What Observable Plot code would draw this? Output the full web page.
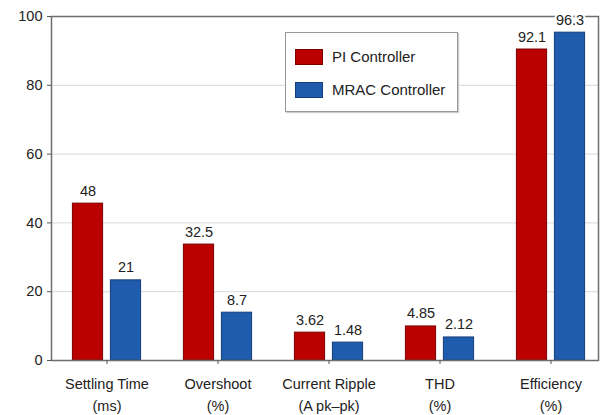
<!DOCTYPE html>
<html>
<head>
<meta charset="utf-8">
<script src="https://cdn.jsdelivr.net/npm/d3@7"></script>
<script src="https://cdn.jsdelivr.net/npm/@observablehq/plot@0.6"></script>
<style>
  html, body { margin: 0; padding: 0; background: #fff; }
  #wrap { position: relative; width: 603px; height: 415px; font-family: "Liberation Sans", Arial, sans-serif; }
  #legend { position: absolute; left: 285px; top: 32px; width: 173px; height: 80px; border: 1px solid #999; background: #fff; box-sizing: border-box; box-shadow: 1px 1px 1px #ccc; }
  .item { position: absolute; left: 9px; display: flex; align-items: center; font-size: 15px; color: #222; }
  .sw { width: 28px; height: 16px; margin-right: 9px; box-sizing: border-box; }
</style>
</head>
<body>
<div id="wrap">
  <div id="chart"></div>
  <div id="legend"></div>
</div>
<script>
const categories = ["Settling Time", "Overshoot", "Current Ripple", "THD", "Efficiency"];
const units = ["(ms)", "(%)", "(A pk–pk)", "(%)", "(%)"];
const series = ["PI Controller", "MRAC Controller"];
const piValues = [45.6, 33.7, 8.1, 9.9, 90.4];
const mracValues = [23.3, 13.9, 5.2, 6.7, 95.3];
const piLabels = ["48", "32.5", "3.62", "4.85", "92.1"];
const mracLabels = ["21", "8.7", "1.48", "2.12", "96.3"];
const yTicks = [0, 20, 40, 60, 80, 100];
const colors = ["#bb0000", "#1f5cad"];
const edges = ["#7a0000", "#123d78"];

const piData = categories.map((c, i) => ({cat: c, value: piValues[i], label: piLabels[i]}));
const mracData = categories.map((c, i) => ({cat: c, value: mracValues[i], label: mracLabels[i]}));
const unitOf = new Map(categories.map((c, i) => [c, units[i]]));

const half = (608 - 49) / 5 / 2;
const outer = half - 34.5, inner = half + 3.5;

const font = "'Liberation Sans', Arial, sans-serif";

const chart = Plot.plot({
  width: 603,
  height: 415,
  marginTop: 16,
  marginBottom: 55,
  marginLeft: 51,
  marginRight: 5,
  style: {fontFamily: font, fontSize: "14.5px", color: "#222", background: "#fff"},
  x: {domain: categories, range: [49, 608], padding: 0, axis: null, label: null},
  y: {domain: [0, 100], axis: null, label: null},
  marks: [
    Plot.gridY([20, 40, 60, 80], {stroke: "#d9d9d9", strokeOpacity: 1}),
    Plot.barY(piData, {x: "cat", y: "value", fill: colors[0], stroke: edges[0], strokeWidth: 1, insetLeft: outer, insetRight: inner}),
    Plot.barY(mracData, {x: "cat", y: "value", fill: colors[1], stroke: edges[1], strokeWidth: 1, insetLeft: inner, insetRight: outer}),
    Plot.frame({stroke: "#6e6e6e", strokeWidth: 1.5}),
    Plot.text(piData, {x: "cat", y: "value", text: "label", dx: -19, dy: -8, lineAnchor: "bottom", fontSize: 14.5, fill: "#222", stroke: "white", strokeWidth: 4}),
    Plot.text(mracData, {x: "cat", y: "value", text: "label", dx: 19, dy: -8, lineAnchor: "bottom", fontSize: 14.5, fill: "#222", stroke: "white", strokeWidth: 4}),
    Plot.axisY(yTicks, {tickSize: 4, tickPadding: 5, stroke: "#555", fontSize: 14.5, fill: "#222", label: null}),
    Plot.axisX(categories, {tickSize: 4, tickPadding: 9, stroke: "#555", fontSize: 14.5, fill: "#222", lineHeight: 1.5, label: null, tickFormat: (d) => d + "\n" + unitOf.get(d)})
  ]
});
document.getElementById("chart").appendChild(chart);

const legend = document.getElementById("legend");
series.forEach((s, i) => {
  const item = document.createElement("div");
  item.className = "item";
  item.style.top = (i === 0 ? 15 : 48) + "px";
  const sw = document.createElement("div");
  sw.className = "sw";
  sw.style.background = colors[i];
  sw.style.border = "1px solid " + edges[i];
  const t = document.createElement("span");
  t.textContent = s;
  item.appendChild(sw);
  item.appendChild(t);
  legend.appendChild(item);
});
</script>
</body>
</html>
